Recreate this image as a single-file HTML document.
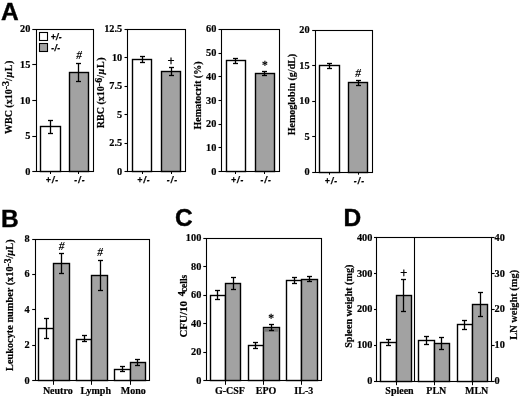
<!DOCTYPE html>
<html><head><meta charset="utf-8"><title>Figure</title>
<style>
html,body{margin:0;padding:0;background:#fff;}
svg{display:block;}
.s{font-family:"Liberation Serif",serif;font-weight:bold;fill:#000;stroke:#000;stroke-width:0.2px;}
.sr{font-family:"Liberation Serif",serif;font-weight:normal;fill:#000;stroke:#000;stroke-width:0.3px;}
.si{font-family:"Liberation Serif",serif;font-weight:bold;font-style:italic;fill:#000;}
.h{font-family:"Liberation Sans",sans-serif;font-weight:bold;fill:#000;}
.hh{font-family:"Liberation Sans",sans-serif;font-weight:bold;fill:#000;stroke:#000;stroke-width:0.4px;}
.hi{font-family:"Liberation Sans",sans-serif;font-weight:bold;font-style:italic;fill:#000;stroke:#000;stroke-width:0.25px;}
.hr{font-family:"Liberation Sans",sans-serif;font-weight:normal;fill:#000;stroke:#000;stroke-width:0.25px;}
</style></head><body>
<svg width="520" height="397" viewBox="0 0 520 397">
<rect x="0" y="0" width="520" height="397" fill="#fff"/>
<text x="1.00" y="19.70" font-size="24.5" text-anchor="start" class="hh">A</text>
<rect x="36.50" y="29.50" width="57.00" height="142.00" fill="none" stroke="#000" stroke-width="1.1"/>
<line x1="32.30" y1="171.50" x2="36.50" y2="171.50" stroke="#000" stroke-width="1.1"/>
<text x="30.30" y="174.60" font-size="10.3" text-anchor="end" class="s">0</text>
<line x1="32.30" y1="136.50" x2="36.50" y2="136.50" stroke="#000" stroke-width="1.1"/>
<text x="30.30" y="139.05" font-size="10.3" text-anchor="end" class="s">5</text>
<line x1="32.30" y1="100.50" x2="36.50" y2="100.50" stroke="#000" stroke-width="1.1"/>
<text x="30.30" y="103.50" font-size="10.3" text-anchor="end" class="s">10</text>
<line x1="32.30" y1="64.50" x2="36.50" y2="64.50" stroke="#000" stroke-width="1.1"/>
<text x="30.30" y="67.95" font-size="10.3" text-anchor="end" class="s">15</text>
<line x1="32.30" y1="29.50" x2="36.50" y2="29.50" stroke="#000" stroke-width="1.1"/>
<text x="30.30" y="32.40" font-size="10.3" text-anchor="end" class="s">20</text>
<rect x="40.50" y="126.50" width="20.00" height="45.00" fill="#fff" stroke="#000" stroke-width="1.4"/>
<rect x="69.50" y="72.50" width="19.00" height="99.00" fill="#a2a2a2" stroke="#000" stroke-width="1.4"/>
<line x1="50.50" y1="120.20" x2="50.50" y2="133.30" stroke="#000" stroke-width="1.3"/>
<line x1="48.00" y1="120.50" x2="53.00" y2="120.50" stroke="#000" stroke-width="1.3"/>
<line x1="48.00" y1="133.50" x2="53.00" y2="133.50" stroke="#000" stroke-width="1.3"/>
<line x1="78.50" y1="63.00" x2="78.50" y2="81.00" stroke="#000" stroke-width="1.3"/>
<line x1="76.00" y1="63.50" x2="81.00" y2="63.50" stroke="#000" stroke-width="1.3"/>
<line x1="76.00" y1="81.50" x2="81.00" y2="81.50" stroke="#000" stroke-width="1.3"/>
<text x="79.00" y="59.30" font-size="11.5" text-anchor="middle" class="si">#</text>
<rect x="39.50" y="32.50" width="8.00" height="8.00" fill="#fff" stroke="#000" stroke-width="1.1"/>
<rect x="39.50" y="43.50" width="8.00" height="8.00" fill="#a2a2a2" stroke="#000" stroke-width="1.1"/>
<text x="50.70" y="40.40" font-size="8.5" text-anchor="start" class="hi" letter-spacing="0.4">+/-</text>
<text x="51.30" y="50.60" font-size="8.5" text-anchor="start" class="hi" letter-spacing="0.4">-/-</text>
<line x1="50.50" y1="171.60" x2="50.50" y2="174.00" stroke="#000" stroke-width="1.0"/>
<line x1="78.50" y1="171.60" x2="78.50" y2="174.00" stroke="#000" stroke-width="1.0"/>
<text x="52.55" y="182.70" font-size="8.5" text-anchor="middle" class="hi" letter-spacing="1.1">+/-</text>
<text x="79.95" y="182.70" font-size="8.5" text-anchor="middle" class="hi" letter-spacing="1.1">-/-</text>
<text x="11.60" y="97.00" font-size="10" text-anchor="middle" class="s" transform="rotate(-90 11.60 97.00)">WBC (x10<tspan dy="-2.2" font-size="10">-3</tspan><tspan dy="2.2" letter-spacing="0.6">/<tspan font-style="italic">µ</tspan>L)</tspan></text>
<rect x="127.50" y="29.50" width="58.00" height="142.00" fill="none" stroke="#000" stroke-width="1.1"/>
<line x1="124.50" y1="171.50" x2="127.80" y2="171.50" stroke="#000" stroke-width="1.1"/>
<text x="122.20" y="174.60" font-size="10.3" text-anchor="end" class="s">0</text>
<line x1="124.50" y1="143.50" x2="127.80" y2="143.50" stroke="#000" stroke-width="1.1"/>
<text x="122.20" y="146.16" font-size="10.3" text-anchor="end" class="s">2.5</text>
<line x1="124.50" y1="114.50" x2="127.80" y2="114.50" stroke="#000" stroke-width="1.1"/>
<text x="122.20" y="117.72" font-size="10.3" text-anchor="end" class="s">5</text>
<line x1="124.50" y1="86.50" x2="127.80" y2="86.50" stroke="#000" stroke-width="1.1"/>
<text x="122.20" y="89.28" font-size="10.3" text-anchor="end" class="s">7.5</text>
<line x1="124.50" y1="57.50" x2="127.80" y2="57.50" stroke="#000" stroke-width="1.1"/>
<text x="122.20" y="60.84" font-size="10.3" text-anchor="end" class="s">10</text>
<line x1="124.50" y1="29.50" x2="127.80" y2="29.50" stroke="#000" stroke-width="1.1"/>
<text x="122.20" y="32.40" font-size="10.3" text-anchor="end" class="s">12.5</text>
<rect x="132.50" y="59.50" width="19.00" height="112.00" fill="#fff" stroke="#000" stroke-width="1.4"/>
<rect x="161.50" y="71.50" width="19.00" height="100.00" fill="#a2a2a2" stroke="#000" stroke-width="1.4"/>
<line x1="142.50" y1="56.70" x2="142.50" y2="62.50" stroke="#000" stroke-width="1.3"/>
<line x1="140.00" y1="56.50" x2="145.00" y2="56.50" stroke="#000" stroke-width="1.3"/>
<line x1="140.00" y1="62.50" x2="145.00" y2="62.50" stroke="#000" stroke-width="1.3"/>
<line x1="171.50" y1="67.50" x2="171.50" y2="75.60" stroke="#000" stroke-width="1.3"/>
<line x1="169.00" y1="67.50" x2="174.00" y2="67.50" stroke="#000" stroke-width="1.3"/>
<line x1="169.00" y1="75.50" x2="174.00" y2="75.50" stroke="#000" stroke-width="1.3"/>
<text x="171.10" y="64.70" font-size="12" text-anchor="middle" class="hr">+</text>
<line x1="142.50" y1="171.60" x2="142.50" y2="174.00" stroke="#000" stroke-width="1.0"/>
<line x1="171.50" y1="171.60" x2="171.50" y2="174.00" stroke="#000" stroke-width="1.0"/>
<text x="144.05" y="182.70" font-size="8.5" text-anchor="middle" class="hi" letter-spacing="1.1">+/-</text>
<text x="172.45" y="182.70" font-size="8.5" text-anchor="middle" class="hi" letter-spacing="1.1">-/-</text>
<text x="104.20" y="92.50" font-size="10" text-anchor="middle" class="s" transform="rotate(-90 104.20 92.50)">RBC (x10<tspan dy="-2.2" font-size="10">-6</tspan><tspan dy="2.2" letter-spacing="0.6">/<tspan font-style="italic">µ</tspan>L)</tspan></text>
<rect x="221.50" y="29.50" width="58.00" height="142.00" fill="none" stroke="#000" stroke-width="1.1"/>
<line x1="218.50" y1="171.50" x2="221.50" y2="171.50" stroke="#000" stroke-width="1.1"/>
<text x="216.40" y="174.60" font-size="10.3" text-anchor="end" class="s">0</text>
<line x1="218.50" y1="147.50" x2="221.50" y2="147.50" stroke="#000" stroke-width="1.1"/>
<text x="216.40" y="150.90" font-size="10.3" text-anchor="end" class="s">10</text>
<line x1="218.50" y1="124.50" x2="221.50" y2="124.50" stroke="#000" stroke-width="1.1"/>
<text x="216.40" y="127.20" font-size="10.3" text-anchor="end" class="s">20</text>
<line x1="218.50" y1="100.50" x2="221.50" y2="100.50" stroke="#000" stroke-width="1.1"/>
<text x="216.40" y="103.50" font-size="10.3" text-anchor="end" class="s">30</text>
<line x1="218.50" y1="76.50" x2="221.50" y2="76.50" stroke="#000" stroke-width="1.1"/>
<text x="216.40" y="79.80" font-size="10.3" text-anchor="end" class="s">40</text>
<line x1="218.50" y1="53.50" x2="221.50" y2="53.50" stroke="#000" stroke-width="1.1"/>
<text x="216.40" y="56.10" font-size="10.3" text-anchor="end" class="s">50</text>
<line x1="218.50" y1="29.50" x2="221.50" y2="29.50" stroke="#000" stroke-width="1.1"/>
<text x="216.40" y="32.40" font-size="10.3" text-anchor="end" class="s">60</text>
<rect x="226.50" y="60.50" width="19.00" height="111.00" fill="#fff" stroke="#000" stroke-width="1.4"/>
<rect x="255.50" y="73.50" width="19.00" height="98.00" fill="#a2a2a2" stroke="#000" stroke-width="1.4"/>
<line x1="235.50" y1="58.20" x2="235.50" y2="63.20" stroke="#000" stroke-width="1.3"/>
<line x1="233.00" y1="58.50" x2="238.00" y2="58.50" stroke="#000" stroke-width="1.3"/>
<line x1="233.00" y1="63.50" x2="238.00" y2="63.50" stroke="#000" stroke-width="1.3"/>
<line x1="264.50" y1="71.30" x2="264.50" y2="75.30" stroke="#000" stroke-width="1.3"/>
<line x1="262.00" y1="71.50" x2="267.00" y2="71.50" stroke="#000" stroke-width="1.3"/>
<line x1="262.00" y1="75.50" x2="267.00" y2="75.50" stroke="#000" stroke-width="1.3"/>
<text x="264.80" y="69.20" font-size="11.5" text-anchor="middle" class="sr">*</text>
<line x1="235.50" y1="171.60" x2="235.50" y2="174.00" stroke="#000" stroke-width="1.0"/>
<line x1="264.50" y1="171.60" x2="264.50" y2="174.00" stroke="#000" stroke-width="1.0"/>
<text x="237.75" y="182.70" font-size="8.5" text-anchor="middle" class="hi" letter-spacing="1.1">+/-</text>
<text x="266.15" y="182.70" font-size="8.5" text-anchor="middle" class="hi" letter-spacing="1.1">-/-</text>
<text x="200.60" y="95.50" font-size="10" text-anchor="middle" class="s" transform="rotate(-90 200.60 95.50)">Hematocrit (%)</text>
<rect x="315.50" y="30.50" width="57.00" height="142.00" fill="none" stroke="#000" stroke-width="1.1"/>
<line x1="312.20" y1="172.50" x2="315.30" y2="172.50" stroke="#000" stroke-width="1.1"/>
<text x="309.60" y="175.30" font-size="10.3" text-anchor="end" class="s">0</text>
<line x1="312.20" y1="136.50" x2="315.30" y2="136.50" stroke="#000" stroke-width="1.1"/>
<text x="309.60" y="139.80" font-size="10.3" text-anchor="end" class="s">5</text>
<line x1="312.20" y1="101.50" x2="315.30" y2="101.50" stroke="#000" stroke-width="1.1"/>
<text x="309.60" y="104.30" font-size="10.3" text-anchor="end" class="s">10</text>
<line x1="312.20" y1="65.50" x2="315.30" y2="65.50" stroke="#000" stroke-width="1.1"/>
<text x="309.60" y="68.80" font-size="10.3" text-anchor="end" class="s">15</text>
<line x1="312.20" y1="30.50" x2="315.30" y2="30.50" stroke="#000" stroke-width="1.1"/>
<text x="309.60" y="33.30" font-size="10.3" text-anchor="end" class="s">20</text>
<rect x="319.50" y="65.50" width="20.00" height="107.00" fill="#fff" stroke="#000" stroke-width="1.4"/>
<rect x="348.50" y="82.50" width="19.00" height="90.00" fill="#a2a2a2" stroke="#000" stroke-width="1.4"/>
<line x1="329.50" y1="63.50" x2="329.50" y2="68.00" stroke="#000" stroke-width="1.3"/>
<line x1="327.00" y1="63.50" x2="332.00" y2="63.50" stroke="#000" stroke-width="1.3"/>
<line x1="327.00" y1="68.50" x2="332.00" y2="68.50" stroke="#000" stroke-width="1.3"/>
<line x1="358.50" y1="80.60" x2="358.50" y2="85.10" stroke="#000" stroke-width="1.3"/>
<line x1="356.00" y1="80.50" x2="361.00" y2="80.50" stroke="#000" stroke-width="1.3"/>
<line x1="356.00" y1="85.50" x2="361.00" y2="85.50" stroke="#000" stroke-width="1.3"/>
<text x="358.10" y="77.30" font-size="11.5" text-anchor="middle" class="si">#</text>
<line x1="329.50" y1="172.30" x2="329.50" y2="174.70" stroke="#000" stroke-width="1.0"/>
<line x1="358.50" y1="172.30" x2="358.50" y2="174.70" stroke="#000" stroke-width="1.0"/>
<text x="331.55" y="183.50" font-size="8.5" text-anchor="middle" class="hi" letter-spacing="1.1">+/-</text>
<text x="359.45" y="183.50" font-size="8.5" text-anchor="middle" class="hi" letter-spacing="1.1">-/-</text>
<text x="295.00" y="94.50" font-size="10" text-anchor="middle" class="s" transform="rotate(-90 295.00 94.50)">Hemoglobin (g/dL)</text>
<text x="1.00" y="226.60" font-size="24.5" text-anchor="start" class="hh">B</text>
<rect x="35.50" y="239.50" width="114.00" height="141.00" fill="none" stroke="#000" stroke-width="1.1"/>
<line x1="32.20" y1="380.50" x2="35.30" y2="380.50" stroke="#000" stroke-width="1.1"/>
<text x="29.70" y="383.60" font-size="10.3" text-anchor="end" class="s">0</text>
<line x1="32.20" y1="345.50" x2="35.30" y2="345.50" stroke="#000" stroke-width="1.1"/>
<text x="29.70" y="348.23" font-size="10.3" text-anchor="end" class="s">2</text>
<line x1="32.20" y1="309.50" x2="35.30" y2="309.50" stroke="#000" stroke-width="1.1"/>
<text x="29.70" y="312.85" font-size="10.3" text-anchor="end" class="s">4</text>
<line x1="32.20" y1="274.50" x2="35.30" y2="274.50" stroke="#000" stroke-width="1.1"/>
<text x="29.70" y="277.48" font-size="10.3" text-anchor="end" class="s">6</text>
<line x1="32.20" y1="239.50" x2="35.30" y2="239.50" stroke="#000" stroke-width="1.1"/>
<text x="29.70" y="242.10" font-size="10.3" text-anchor="end" class="s">8</text>
<rect x="38.50" y="328.50" width="15.00" height="52.00" fill="#fff" stroke="#000" stroke-width="1.4"/>
<rect x="53.50" y="263.50" width="16.00" height="117.00" fill="#a2a2a2" stroke="#000" stroke-width="1.4"/>
<rect x="76.50" y="339.50" width="15.00" height="41.00" fill="#fff" stroke="#000" stroke-width="1.4"/>
<rect x="91.50" y="275.50" width="16.00" height="105.00" fill="#a2a2a2" stroke="#000" stroke-width="1.4"/>
<rect x="114.50" y="369.50" width="16.00" height="11.00" fill="#fff" stroke="#000" stroke-width="1.4"/>
<rect x="130.50" y="362.50" width="15.00" height="18.00" fill="#a2a2a2" stroke="#000" stroke-width="1.4"/>
<line x1="46.50" y1="318.90" x2="46.50" y2="338.30" stroke="#000" stroke-width="1.3"/>
<line x1="44.00" y1="318.50" x2="49.00" y2="318.50" stroke="#000" stroke-width="1.3"/>
<line x1="44.00" y1="338.50" x2="49.00" y2="338.50" stroke="#000" stroke-width="1.3"/>
<line x1="61.50" y1="253.40" x2="61.50" y2="273.60" stroke="#000" stroke-width="1.3"/>
<line x1="59.00" y1="253.50" x2="64.00" y2="253.50" stroke="#000" stroke-width="1.3"/>
<line x1="59.00" y1="273.50" x2="64.00" y2="273.50" stroke="#000" stroke-width="1.3"/>
<line x1="84.50" y1="335.30" x2="84.50" y2="341.90" stroke="#000" stroke-width="1.3"/>
<line x1="82.00" y1="335.50" x2="87.00" y2="335.50" stroke="#000" stroke-width="1.3"/>
<line x1="82.00" y1="341.50" x2="87.00" y2="341.50" stroke="#000" stroke-width="1.3"/>
<line x1="100.50" y1="260.50" x2="100.50" y2="290.20" stroke="#000" stroke-width="1.3"/>
<line x1="98.00" y1="260.50" x2="103.00" y2="260.50" stroke="#000" stroke-width="1.3"/>
<line x1="98.00" y1="290.50" x2="103.00" y2="290.50" stroke="#000" stroke-width="1.3"/>
<line x1="122.50" y1="366.30" x2="122.50" y2="371.30" stroke="#000" stroke-width="1.3"/>
<line x1="120.00" y1="366.50" x2="125.00" y2="366.50" stroke="#000" stroke-width="1.3"/>
<line x1="120.00" y1="371.50" x2="125.00" y2="371.50" stroke="#000" stroke-width="1.3"/>
<line x1="137.50" y1="359.20" x2="137.50" y2="365.00" stroke="#000" stroke-width="1.3"/>
<line x1="135.00" y1="359.50" x2="140.00" y2="359.50" stroke="#000" stroke-width="1.3"/>
<line x1="135.00" y1="365.50" x2="140.00" y2="365.50" stroke="#000" stroke-width="1.3"/>
<text x="61.70" y="249.60" font-size="11.5" text-anchor="middle" class="si">#</text>
<text x="100.00" y="256.20" font-size="11.5" text-anchor="middle" class="si">#</text>
<line x1="53.50" y1="380.60" x2="53.50" y2="384.80" stroke="#000" stroke-width="1.0"/>
<line x1="91.50" y1="380.60" x2="91.50" y2="384.80" stroke="#000" stroke-width="1.0"/>
<line x1="130.50" y1="380.60" x2="130.50" y2="384.80" stroke="#000" stroke-width="1.0"/>
<text x="57.80" y="394.00" font-size="10" text-anchor="middle" class="s">Neutro</text>
<text x="95.70" y="394.00" font-size="10" text-anchor="middle" class="s">Lymph</text>
<text x="133.20" y="394.00" font-size="10" text-anchor="middle" class="s">Mono</text>
<text x="12.60" y="305.20" font-size="10.3" text-anchor="middle" class="s" transform="rotate(-90 12.60 305.20)">Leukocyte number (x10<tspan dy="-1.5" font-size="9.5">-3</tspan><tspan dy="1.5" letter-spacing="0">/<tspan font-style="italic">µ</tspan>L)</tspan></text>
<text x="175.00" y="225.80" font-size="24.5" text-anchor="start" class="hh">C</text>
<rect x="206.50" y="238.50" width="115.00" height="142.00" fill="none" stroke="#000" stroke-width="1.1"/>
<line x1="203.30" y1="380.50" x2="206.40" y2="380.50" stroke="#000" stroke-width="1.1"/>
<text x="201.30" y="383.60" font-size="10.3" text-anchor="end" class="s">0</text>
<line x1="203.30" y1="352.50" x2="206.40" y2="352.50" stroke="#000" stroke-width="1.1"/>
<text x="201.30" y="355.16" font-size="10.3" text-anchor="end" class="s">20</text>
<line x1="203.30" y1="323.50" x2="206.40" y2="323.50" stroke="#000" stroke-width="1.1"/>
<text x="201.30" y="326.72" font-size="10.3" text-anchor="end" class="s">40</text>
<line x1="203.30" y1="295.50" x2="206.40" y2="295.50" stroke="#000" stroke-width="1.1"/>
<text x="201.30" y="298.28" font-size="10.3" text-anchor="end" class="s">60</text>
<line x1="203.30" y1="266.50" x2="206.40" y2="266.50" stroke="#000" stroke-width="1.1"/>
<text x="201.30" y="269.84" font-size="10.3" text-anchor="end" class="s">80</text>
<line x1="203.30" y1="238.50" x2="206.40" y2="238.50" stroke="#000" stroke-width="1.1"/>
<text x="201.30" y="241.40" font-size="10.3" text-anchor="end" class="s">100</text>
<rect x="210.50" y="295.50" width="15.00" height="85.00" fill="#fff" stroke="#000" stroke-width="1.4"/>
<rect x="225.50" y="283.50" width="15.00" height="97.00" fill="#a2a2a2" stroke="#000" stroke-width="1.4"/>
<rect x="248.50" y="345.50" width="15.00" height="35.00" fill="#fff" stroke="#000" stroke-width="1.4"/>
<rect x="263.50" y="327.50" width="16.00" height="53.00" fill="#a2a2a2" stroke="#000" stroke-width="1.4"/>
<rect x="263.8" y="328.49" width="14.6" height="3.2" fill="#777"/>
<rect x="286.50" y="280.50" width="15.00" height="100.00" fill="#fff" stroke="#000" stroke-width="1.4"/>
<rect x="301.50" y="279.50" width="16.00" height="101.00" fill="#a2a2a2" stroke="#000" stroke-width="1.4"/>
<line x1="217.50" y1="290.20" x2="217.50" y2="299.30" stroke="#000" stroke-width="1.3"/>
<line x1="215.00" y1="290.50" x2="220.00" y2="290.50" stroke="#000" stroke-width="1.3"/>
<line x1="215.00" y1="299.50" x2="220.00" y2="299.50" stroke="#000" stroke-width="1.3"/>
<line x1="233.50" y1="277.40" x2="233.50" y2="289.50" stroke="#000" stroke-width="1.3"/>
<line x1="231.00" y1="277.50" x2="236.00" y2="277.50" stroke="#000" stroke-width="1.3"/>
<line x1="231.00" y1="289.50" x2="236.00" y2="289.50" stroke="#000" stroke-width="1.3"/>
<line x1="255.50" y1="342.40" x2="255.50" y2="348.40" stroke="#000" stroke-width="1.3"/>
<line x1="253.00" y1="342.50" x2="258.00" y2="342.50" stroke="#000" stroke-width="1.3"/>
<line x1="253.00" y1="348.50" x2="258.00" y2="348.50" stroke="#000" stroke-width="1.3"/>
<line x1="271.50" y1="324.70" x2="271.50" y2="330.80" stroke="#000" stroke-width="1.3"/>
<line x1="269.00" y1="324.50" x2="274.00" y2="324.50" stroke="#000" stroke-width="1.3"/>
<line x1="269.00" y1="330.50" x2="274.00" y2="330.50" stroke="#000" stroke-width="1.3"/>
<line x1="294.50" y1="277.60" x2="294.50" y2="283.20" stroke="#000" stroke-width="1.3"/>
<line x1="292.00" y1="277.50" x2="297.00" y2="277.50" stroke="#000" stroke-width="1.3"/>
<line x1="292.00" y1="283.50" x2="297.00" y2="283.50" stroke="#000" stroke-width="1.3"/>
<line x1="309.50" y1="276.40" x2="309.50" y2="281.90" stroke="#000" stroke-width="1.3"/>
<line x1="307.00" y1="276.50" x2="312.00" y2="276.50" stroke="#000" stroke-width="1.3"/>
<line x1="307.00" y1="281.50" x2="312.00" y2="281.50" stroke="#000" stroke-width="1.3"/>
<text x="271.00" y="321.60" font-size="11.5" text-anchor="middle" class="sr">*</text>
<line x1="225.50" y1="380.60" x2="225.50" y2="384.80" stroke="#000" stroke-width="1.0"/>
<line x1="263.50" y1="380.60" x2="263.50" y2="384.80" stroke="#000" stroke-width="1.0"/>
<line x1="301.50" y1="380.60" x2="301.50" y2="384.80" stroke="#000" stroke-width="1.0"/>
<text x="229.90" y="393.50" font-size="10" text-anchor="middle" class="s">G-CSF</text>
<text x="266.00" y="393.50" font-size="10" text-anchor="middle" class="s">EPO</text>
<text x="303.80" y="393.50" font-size="10" text-anchor="middle" class="s">IL-3</text>
<text x="187.00" y="337.60" font-size="11" text-anchor="start" class="s" transform="rotate(-90 187.00 337.60)">CFU/10<tspan dy="-2.2" dx="4.6" font-size="10">4</tspan><tspan dy="2.2" dx="-0.7" font-size="9.4">cells</tspan></text>
<text x="343.50" y="226.00" font-size="24.5" text-anchor="start" class="hh">D</text>
<rect x="376.50" y="237.50" width="115.00" height="144.00" fill="none" stroke="#000" stroke-width="1.1"/>
<line x1="414.50" y1="237.80" x2="414.50" y2="381.00" stroke="#000" stroke-width="1.1"/>
<line x1="374.00" y1="381.50" x2="376.90" y2="381.50" stroke="#000" stroke-width="1.1"/>
<text x="372.40" y="384.00" font-size="10.3" text-anchor="end" class="s">0</text>
<line x1="374.00" y1="345.50" x2="376.90" y2="345.50" stroke="#000" stroke-width="1.1"/>
<text x="372.40" y="348.20" font-size="10.3" text-anchor="end" class="s">100</text>
<line x1="374.00" y1="309.50" x2="376.90" y2="309.50" stroke="#000" stroke-width="1.1"/>
<text x="372.40" y="312.40" font-size="10.3" text-anchor="end" class="s">200</text>
<line x1="374.00" y1="273.50" x2="376.90" y2="273.50" stroke="#000" stroke-width="1.1"/>
<text x="372.40" y="276.60" font-size="10.3" text-anchor="end" class="s">300</text>
<line x1="374.00" y1="237.50" x2="376.90" y2="237.50" stroke="#000" stroke-width="1.1"/>
<text x="372.40" y="240.80" font-size="10.3" text-anchor="end" class="s">400</text>
<line x1="491.30" y1="381.50" x2="494.60" y2="381.50" stroke="#000" stroke-width="1.1"/>
<text x="494.60" y="384.00" font-size="10.3" text-anchor="start" class="s">0</text>
<line x1="491.30" y1="345.50" x2="494.60" y2="345.50" stroke="#000" stroke-width="1.1"/>
<text x="494.60" y="348.20" font-size="10.3" text-anchor="start" class="s">10</text>
<line x1="491.30" y1="309.50" x2="494.60" y2="309.50" stroke="#000" stroke-width="1.1"/>
<text x="494.60" y="312.40" font-size="10.3" text-anchor="start" class="s">20</text>
<line x1="491.30" y1="273.50" x2="494.60" y2="273.50" stroke="#000" stroke-width="1.1"/>
<text x="494.60" y="276.60" font-size="10.3" text-anchor="start" class="s">30</text>
<line x1="491.30" y1="237.50" x2="494.60" y2="237.50" stroke="#000" stroke-width="1.1"/>
<text x="494.60" y="240.80" font-size="10.3" text-anchor="start" class="s">40</text>
<rect x="380.50" y="342.50" width="16.00" height="39.00" fill="#fff" stroke="#000" stroke-width="1.4"/>
<rect x="396.50" y="295.50" width="15.00" height="86.00" fill="#a2a2a2" stroke="#000" stroke-width="1.4"/>
<rect x="418.50" y="340.50" width="16.00" height="41.00" fill="#fff" stroke="#000" stroke-width="1.4"/>
<rect x="434.50" y="343.50" width="15.00" height="38.00" fill="#a2a2a2" stroke="#000" stroke-width="1.4"/>
<rect x="457.50" y="324.50" width="15.00" height="57.00" fill="#fff" stroke="#000" stroke-width="1.4"/>
<rect x="472.50" y="304.50" width="15.00" height="77.00" fill="#a2a2a2" stroke="#000" stroke-width="1.4"/>
<line x1="388.50" y1="339.60" x2="388.50" y2="345.90" stroke="#000" stroke-width="1.3"/>
<line x1="386.00" y1="339.50" x2="391.00" y2="339.50" stroke="#000" stroke-width="1.3"/>
<line x1="386.00" y1="345.50" x2="391.00" y2="345.50" stroke="#000" stroke-width="1.3"/>
<line x1="403.50" y1="279.90" x2="403.50" y2="311.90" stroke="#000" stroke-width="1.3"/>
<line x1="401.00" y1="279.50" x2="406.00" y2="279.50" stroke="#000" stroke-width="1.3"/>
<line x1="401.00" y1="311.50" x2="406.00" y2="311.50" stroke="#000" stroke-width="1.3"/>
<line x1="426.50" y1="336.10" x2="426.50" y2="344.60" stroke="#000" stroke-width="1.3"/>
<line x1="424.00" y1="336.50" x2="429.00" y2="336.50" stroke="#000" stroke-width="1.3"/>
<line x1="424.00" y1="344.50" x2="429.00" y2="344.50" stroke="#000" stroke-width="1.3"/>
<line x1="441.50" y1="337.30" x2="441.50" y2="349.90" stroke="#000" stroke-width="1.3"/>
<line x1="439.00" y1="337.50" x2="444.00" y2="337.50" stroke="#000" stroke-width="1.3"/>
<line x1="439.00" y1="349.50" x2="444.00" y2="349.50" stroke="#000" stroke-width="1.3"/>
<line x1="464.50" y1="320.20" x2="464.50" y2="329.00" stroke="#000" stroke-width="1.3"/>
<line x1="462.00" y1="320.50" x2="467.00" y2="320.50" stroke="#000" stroke-width="1.3"/>
<line x1="462.00" y1="329.50" x2="467.00" y2="329.50" stroke="#000" stroke-width="1.3"/>
<line x1="480.50" y1="292.50" x2="480.50" y2="316.90" stroke="#000" stroke-width="1.3"/>
<line x1="478.00" y1="292.50" x2="483.00" y2="292.50" stroke="#000" stroke-width="1.3"/>
<line x1="478.00" y1="316.50" x2="483.00" y2="316.50" stroke="#000" stroke-width="1.3"/>
<text x="403.80" y="276.80" font-size="12" text-anchor="middle" class="hr">+</text>
<line x1="396.50" y1="381.00" x2="396.50" y2="385.20" stroke="#000" stroke-width="1.0"/>
<line x1="434.50" y1="381.00" x2="434.50" y2="385.20" stroke="#000" stroke-width="1.0"/>
<line x1="472.50" y1="381.00" x2="472.50" y2="385.20" stroke="#000" stroke-width="1.0"/>
<text x="399.50" y="394.00" font-size="10" text-anchor="middle" class="s">Spleen</text>
<text x="436.30" y="394.00" font-size="10" text-anchor="middle" class="s">PLN</text>
<text x="476.70" y="394.00" font-size="10" text-anchor="middle" class="s">MLN</text>
<text x="352.40" y="306.20" font-size="10.2" text-anchor="middle" class="s" transform="rotate(-90 352.40 306.20)">Spleen weight (mg)</text>
<text x="516.60" y="304.80" font-size="10.4" text-anchor="middle" class="s" transform="rotate(-90 516.60 304.80)">LN weight (mg)</text>
</svg>
</body></html>
